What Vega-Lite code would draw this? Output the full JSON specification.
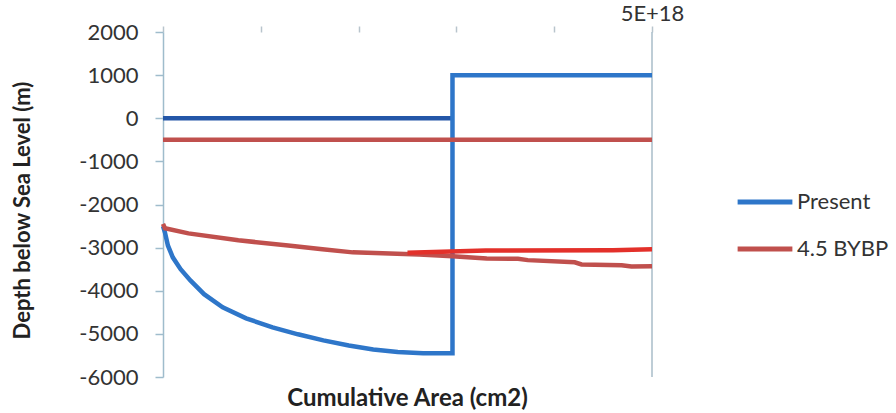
{
  "$schema": "https://vega.github.io/schema/vega-lite/v6.json",
  "autosize": {"type": "none"},
  "width": 489,
  "height": 345,
  "padding": {"left": 163, "top": 32, "right": 244, "bottom": 36},
  "background": "white",
  "config": {
    "view": {"stroke": null},
    "font": "Lato",
    "axis": {"labelFont": "Lato", "titleFont": "Lato"},
    "legend": {"labelFont": "Lato"}
  },
  "datasets": {
    "main": [
      {"s": "Present", "g": "P", "i": 0, "x": 0, "y": -2500},
      {"s": "Present", "g": "P", "i": 1, "x": 2e16, "y": -2650},
      {"s": "Present", "g": "P", "i": 2, "x": 5e16, "y": -2950},
      {"s": "Present", "g": "P", "i": 3, "x": 1e17, "y": -3225},
      {"s": "Present", "g": "P", "i": 4, "x": 1.8e17, "y": -3500},
      {"s": "Present", "g": "P", "i": 5, "x": 2.8e17, "y": -3760},
      {"s": "Present", "g": "P", "i": 6, "x": 4.2e17, "y": -4080},
      {"s": "Present", "g": "P", "i": 7, "x": 6.1e17, "y": -4385},
      {"s": "Present", "g": "P", "i": 8, "x": 8.5e17, "y": -4640},
      {"s": "Present", "g": "P", "i": 9, "x": 1.12e18, "y": -4850},
      {"s": "Present", "g": "P", "i": 10, "x": 1.38e18, "y": -5010},
      {"s": "Present", "g": "P", "i": 11, "x": 1.64e18, "y": -5150},
      {"s": "Present", "g": "P", "i": 12, "x": 1.9e18, "y": -5270},
      {"s": "Present", "g": "P", "i": 13, "x": 2.15e18, "y": -5360},
      {"s": "Present", "g": "P", "i": 14, "x": 2.4e18, "y": -5420},
      {"s": "Present", "g": "P", "i": 15, "x": 2.66e18, "y": -5450},
      {"s": "Present", "g": "P", "i": 16, "x": 2.96e18, "y": -5450},
      {"s": "Present", "g": "P", "i": 17, "x": 2.96e18, "y": 1000},
      {"s": "Present", "g": "P", "i": 18, "x": 5e18, "y": 1000},
      {"s": "4.5 BYBP", "g": "R5", "i": 0, "x": 0, "y": -500},
      {"s": "4.5 BYBP", "g": "R5", "i": 1, "x": 5e18, "y": -500},
      {"s": "4.5 BYBP", "g": "Rc", "i": 0, "x": 0, "y": -2450},
      {"s": "4.5 BYBP", "g": "Rc", "i": 1, "x": 2e16, "y": -2550},
      {"s": "4.5 BYBP", "g": "Rc", "i": 2, "x": 2.6e17, "y": -2670},
      {"s": "4.5 BYBP", "g": "Rc", "i": 3, "x": 7.7e17, "y": -2830},
      {"s": "4.5 BYBP", "g": "Rc", "i": 4, "x": 1.28e18, "y": -2950},
      {"s": "4.5 BYBP", "g": "Rc", "i": 5, "x": 1.63e18, "y": -3040},
      {"s": "4.5 BYBP", "g": "Rc", "i": 6, "x": 1.94e18, "y": -3110},
      {"s": "4.5 BYBP", "g": "Rc", "i": 7, "x": 2.62e18, "y": -3160},
      {"s": "4.5 BYBP", "g": "Rc", "i": 8, "x": 2.96e18, "y": -3200},
      {"s": "4.5 BYBP", "g": "Rc", "i": 9, "x": 3.31e18, "y": -3250},
      {"s": "4.5 BYBP", "g": "Rc", "i": 10, "x": 3.63e18, "y": -3260},
      {"s": "4.5 BYBP", "g": "Rc", "i": 11, "x": 3.73e18, "y": -3290},
      {"s": "4.5 BYBP", "g": "Rc", "i": 12, "x": 4.21e18, "y": -3340},
      {"s": "4.5 BYBP", "g": "Rc", "i": 13, "x": 4.28e18, "y": -3390},
      {"s": "4.5 BYBP", "g": "Rc", "i": 14, "x": 4.69e18, "y": -3410},
      {"s": "4.5 BYBP", "g": "Rc", "i": 15, "x": 4.79e18, "y": -3440},
      {"s": "4.5 BYBP", "g": "Rc", "i": 16, "x": 5e18, "y": -3430}
    ],
    "zero": [
      {"i": 0, "x": 0, "y": 0},
      {"i": 1, "x": 2.96e18, "y": 0}
    ],
    "bright": [
      {"i": 0, "x": 2.5e18, "y": -3120},
      {"i": 1, "x": 3.3e18, "y": -3065},
      {"i": 2, "x": 4.6e18, "y": -3060},
      {"i": 3, "x": 5e18, "y": -3040}
    ],
    "edge": [{"x": 5e18}]
  },
  "layer": [
    {
      "data": {"name": "edge"},
      "mark": {"type": "rule", "color": "#a9bcc8", "strokeWidth": 1.5},
      "encoding": {
        "x": {"field": "x", "type": "quantitative", "scale": {"domain": [0, 5e18], "nice": false}}
      }
    },
    {
      "data": {"name": "zero"},
      "mark": {"type": "line", "color": "#2457a8", "strokeWidth": 4.5},
      "encoding": {
        "x": {"field": "x", "type": "quantitative"},
        "y": {"field": "y", "type": "quantitative"},
        "order": {"field": "i"}
      }
    },
    {
      "data": {"name": "main"},
      "mark": {"type": "line", "strokeWidth": 4.5},
      "encoding": {
        "x": {
          "field": "x", "type": "quantitative",
          "scale": {"domain": [0, 5e18], "nice": false},
          "axis": {
            "orient": "top",
            "values": [0, 1e18, 2e18, 3e18, 4e18, 5e18],
            "labelExpr": "datum.value == 5e18 ? '5E+18' : ''",
            "domain": false,
            "ticks": true,
            "tickColor": "#b8c4cc",
            "tickSize": 6,
            "tickWidth": 1.5,
            "labelFontSize": 22,
            "labelColor": "#333333",
            "labelPadding": 1,
            "labelAlign": "center",
            "grid": false,
            "title": "Cumulative Area (cm2)",
            "titleFontSize": 24,
            "titleFontWeight": "bold",
            "titleColor": "#222222",
            "titleX": 244,
            "titleY": 366,
            "titleAlign": "center",
            "titleBaseline": "middle"
          }
        },
        "y": {
          "field": "y", "type": "quantitative",
          "scale": {"domain": [-6000, 2000], "nice": false},
          "axis": {
            "values": [-6000, -5000, -4000, -3000, -2000, -1000, 0, 1000, 2000],
            "labelExpr": "'' + datum.value",
            "grid": false,
            "domainColor": "#9fbccc",
            "domainWidth": 1.5,
            "tickColor": "#9fbccc",
            "tickWidth": 1.5,
            "tickSize": 8,
            "labelPadding": 17,
            "labelFontSize": 22,
            "labelColor": "#333333",
            "title": "Depth below Sea Level (m)",
            "titleFontSize": 22,
            "titleFontWeight": "bold",
            "titleColor": "#222222",
            "titleX": -141,
            "titleY": 178,
            "titleAngle": -90,
            "titleAlign": "center",
            "titleBaseline": "middle"
          }
        },
        "color": {
          "field": "s", "type": "nominal",
          "scale": {"domain": ["Present", "4.5 BYBP"], "range": ["#2e76c9", "#c0504d"]},
          "legend": {
            "title": null,
            "orient": "none",
            "legendX": 572,
            "legendY": 140,
            "symbolType": "stroke",
            "symbolSize": 3000,
            "symbolStrokeWidth": 5,
            "labelFontSize": 22,
            "labelColor": "#333333",
            "labelOffset": 2,
            "rowPadding": 6
          }
        },
        "detail": {"field": "g"},
        "order": {"field": "i"}
      }
    },
    {
      "data": {"name": "bright"},
      "mark": {"type": "line", "color": "#e3302a", "strokeWidth": 4.5},
      "encoding": {
        "x": {"field": "x", "type": "quantitative"},
        "y": {"field": "y", "type": "quantitative"},
        "order": {"field": "i"}
      }
    }
  ]
}
